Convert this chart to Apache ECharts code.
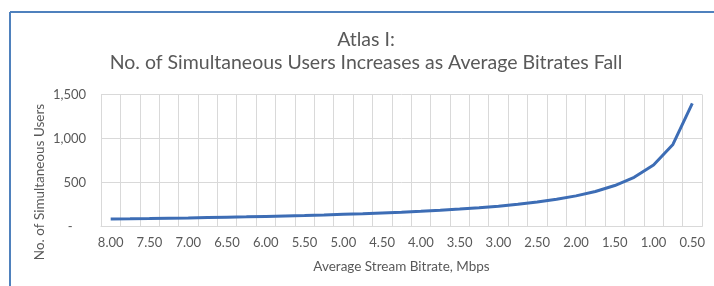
<!DOCTYPE html>
<html>
<head>
<meta charset="utf-8">
<script src="https://cdn.jsdelivr.net/npm/echarts@6/dist/echarts.min.js"></script>
<style>html,body{margin:0;padding:0;background:#fff;}#c{width:714px;height:286px;}</style>
</head>
<body>
<div id="c"></div>
<script>
const categories = ['8.00','7.75','7.50','7.25','7.00','6.75','6.50','6.25','6.00','5.75','5.50','5.25','5.00','4.75','4.50','4.25','4.00','3.75','3.50','3.25','3.00','2.75','2.50','2.25','2.00','1.75','1.50','1.25','1.00','0.75','0.50'];
const users = [88,90,93,97,100,104,108,112,117,122,127,133,140,147,156,165,175,187,200,215,233,255,280,311,350,400,467,560,700,933,1400];
const yTicks = [0,500,1000,1500];
const titleLines = ['Atlas I:', 'No. of Simultaneous Users Increases as Average Bitrates Fall'];
const xName = 'Average Stream Bitrate, Mbps';
const yName = 'No. of Simultaneous Users';

const FONT = 'Lato';
const GRAY = '#595959';
const chart = echarts.init(document.getElementById('c'));
chart.setOption({
  animation: false,
  title: {
    text: titleLines.join('\n'),
    left: 361, top: 23, textAlign: 'center',
    textStyle: {fontFamily: FONT, fontSize: 19.5, fontWeight: 'normal', color: GRAY, lineHeight: 23}
  },
  grid: {left: 101, right: 12, top: 94.5, bottom: 59.3},
  xAxis: {
    type: 'category', data: categories, boundaryGap: true,
    name: xName, nameLocation: 'middle', nameGap: 33,
    nameTextStyle: {fontFamily: FONT, fontSize: 13.5, color: GRAY},
    axisLine: {lineStyle: {color: '#d9d9d9'}},
    axisTick: {show: false},
    axisLabel: {interval: 1, fontFamily: FONT, fontSize: 13, color: GRAY, margin: 10},
    splitLine: {show: true, interval: 0, lineStyle: {color: '#d9d9d9'}}
  },
  yAxis: {
    type: 'value', min: yTicks[0], max: yTicks[yTicks.length-1], interval: 500,
    axisLine: {show: false}, axisTick: {show: false},
    axisLabel: {fontFamily: FONT, fontSize: 13, color: GRAY, margin: 15,
      formatter: v => v === 0 ? '-    ' : v.toLocaleString('en-US')},
    splitLine: {lineStyle: {color: '#d9d9d9'}}
  },
  graphic: [
    {type: 'line', shape: {x1: 10, y1: 12, x2: 714, y2: 12}, style: {stroke: '#4f81bd', lineWidth: 2}},
    {type: 'line', shape: {x1: 10, y1: 12, x2: 10, y2: 286}, style: {stroke: '#4f81bd', lineWidth: 2}},
    {type: 'text', x: 40, y: 182, rotation: Math.PI/2,
     style: {text: yName, fontFamily: FONT, fontSize: 13.5, fill: GRAY, align: 'center', verticalAlign: 'middle'}}
  ],
  series: [{
    type: 'line', data: users, showSymbol: false, symbol: 'none',
    lineStyle: {color: '#3d6db5', width: 3}
  }]
});
</script>
</body>
</html>
